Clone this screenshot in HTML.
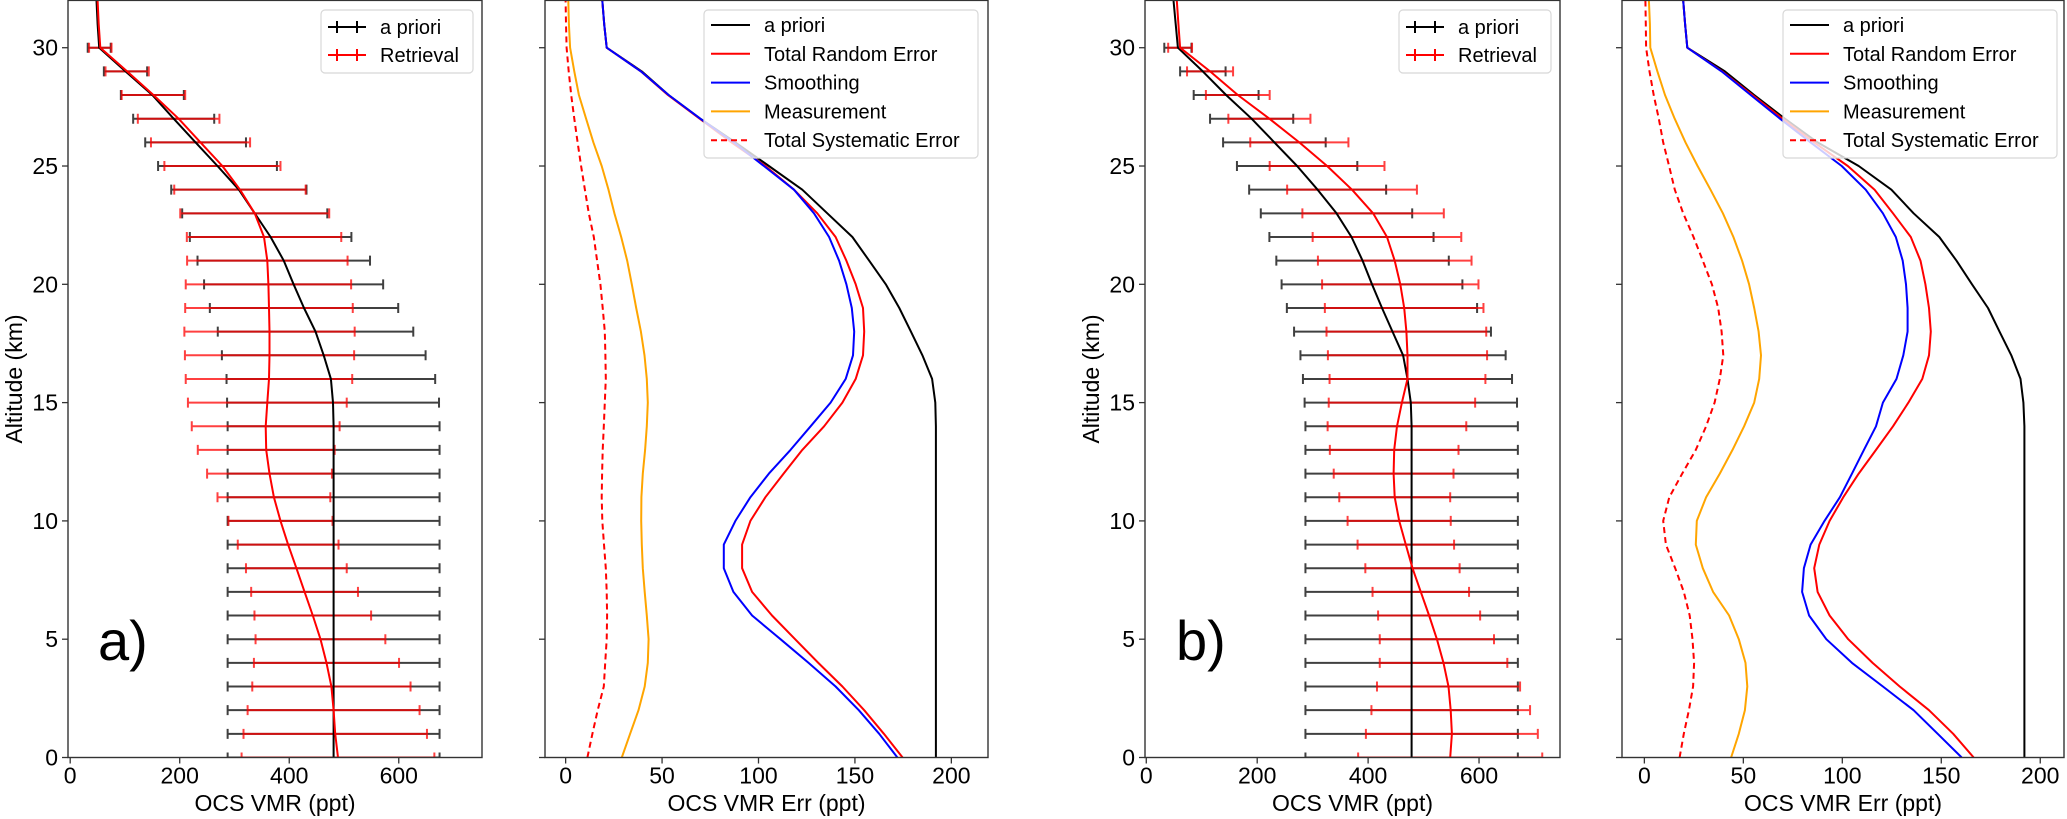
<!DOCTYPE html>
<html><head><meta charset="utf-8">
<style>
html,body{margin:0;padding:0;background:#fff;}
svg{display:block;font-family:"Liberation Sans","DejaVu Sans",sans-serif;}
</style></head>
<body>
<svg id="fig" width="2067" height="819" viewBox="0 0 2067 819" xmlns="http://www.w3.org/2000/svg"></svg>
<script>
// ---------- data (altitude index 0..32 km; error bars 0..30 km) ----------
const altitudes = [0,1,2,3,4,5,6,7,8,9,10,11,12,13,14,15,16,17,18,19,20,21,22,23,24,25,26,27,28,29,30,31,32];
const barAltitudes = [0,1,2,3,4,5,6,7,8,9,10,11,12,13,14,15,16,17,18,19,20,21,22,23,24,25,26,27,28,29,30];

// Panel a
const aPrioriA = [481,481,481,481,481,481,481,481,481,481,481,481,481,481,481,480,476,463,448,427,408,390,366,337,308,269,229,189,150,101,53,50,48];
const aPrioriErrA = [193.5,193.5,193.5,193.5,193.5,193.5,193.5,193.5,193.5,193.5,193.5,193.5,193.5,193.5,193.5,193.5,190.5,186,178.5,172,163.5,157.5,147.5,132.5,123.5,108.5,92,74,57.5,39.5,21];
const retrievalA = [489,484,481,477,468,457,443,428,413,398,384,372,364,358,357,360,363,364,364,363,362,360,354,337,310,278,238,198,152,104,55,52,50];
const retrievalErrA = [176,167.5,157,144.5,132.5,118.5,106.5,97.5,92,92,95,103,114,125,135,145,152,154.5,155.5,153,151,146.5,141,136,120,106,90.5,74.5,58,39.5,20.5];

// Panel a errors
const errAprioriA = [192,192,192,192,192,192,192,192,192,192,192,192,192,192,192,191.7,190,185,179,173,166,157.4,148.7,135.7,122.7,105.4,88,69.8,53.4,39.5,21.3,20,19];
const errRandomA = [174.7,165,154.8,143.5,131,119,107,96.7,91.5,91.5,95.8,103.6,113,122.7,134,143.5,150.4,154.2,154.8,154.2,150.4,145.6,140,130.5,118.4,103.6,86,69.5,53,39,21.3,20,19];
const errSmoothA = [172,162.6,152,140,126,111.4,96.7,87,82,82,88,95.8,105.4,116.6,127,137.4,145.2,149,149.6,148.4,145.6,141.8,136.6,128.8,118.4,102.8,87.2,69.8,53.4,39,21.3,20,19];
const errMeasA = [29.1,33.4,37.8,41,42.6,43,42.1,41,40,39.5,39.2,39.3,40,41.2,42.1,42.6,42.1,40.9,39,36.6,34.3,31.9,28.8,25.3,22.2,18.7,14.4,10.6,6.9,4.5,2.3,1.7,1.4];
const errSysA = [11.3,13.9,16.6,19.8,20.5,21.3,21.5,21.3,20.8,19.9,19,18.7,18.9,19.2,19.8,20.3,20.8,20.6,20.3,19.2,18,16.3,14.6,12,10,8,6.2,4.5,2.9,1.6,0.5,0.2,0];

// Panel b
const aPrioriB = [478.5,478.5,478.5,478.5,478.5,478.5,478.5,478.5,478.5,478.5,478.5,478.5,478.5,478.5,478.5,477,471,463,444,425,407,390,370,343,309,272,231,190,144,102,57,53,49];
const aPrioriErrB = [191.5,191.5,191.5,191.5,191.5,191.5,191.5,191.5,191.5,191.5,191.5,191.5,191.5,191.5,191.5,191.5,188.5,185,177.5,171.5,163,155.5,148,136.5,123.5,108.5,92.5,75,58.5,41,24.5];
const retrievalB = [548,551,549,545,536,524,510,495,480,468,456,448,446,447,452,461,471,471,469,465,458,448,434,409,371,326,276,222,165,115,61,58,55];
const retrievalErrB = [166,155,143,129,115,103,92,87,85,87,93,100,108,116,125,132,140.5,143.5,144,143,141,138.5,134,127.5,117,103.5,88.5,74,57.5,41.5,21.5];

// Panel b errors
const errAprioriB = [192,192,192,192,192,192,192,192,192,192,192,192,192,192,192,191.5,190,185.4,179.4,173.6,165.5,157.7,149,136,124.8,108.3,87.5,71,55.5,40.7,21.7,20.6,19.6];
const errRandomB = [166.4,156,143.8,129,115.3,103,93.6,87.5,85.8,88.4,93.6,100.5,108.3,117,125.6,133.4,140.4,143.8,144.7,143.8,142,139.5,134.6,125.6,116.3,102.8,85.8,69.8,54.6,39.3,21.7,20.6,19.6];
const errSmoothB = [160.3,148.2,136,120.5,104.9,91.9,83.2,79.7,80.6,84,91,98.8,104.9,110.9,117,120.5,127.4,130.8,133,133,132.2,130.5,127,120.5,111.8,99.7,84,68.5,53.7,39,21.7,20.6,19.6];
const errMeasB = [43.8,47.7,50.8,52,51.1,47.7,42.8,34.7,29.5,26,26.5,31.2,38.1,44.5,50.4,55.5,58,58.9,57.7,55.5,52.9,49.4,45,39.7,33.4,26.9,20.8,15.3,10.4,6.6,3,2.8,2.3];
const errSysB = [17.8,19.9,22.5,24.6,25.1,24.3,22.9,19.9,15.6,10.9,9.5,12.6,19.1,26,31.2,35.5,38.1,39.9,39,37.3,34.1,29.5,24.8,19.6,15.4,12.5,9.5,7.3,4.7,2.6,0.9,0.7,0.5];

// ticks
const vmrTicks = [0,200,400,600];
const errTicks = [0,50,100,150,200];
const altTicks = [0,5,10,15,20,25,30];

// ---------- drawing ----------
const NS = "http://www.w3.org/2000/svg";
const svg = document.getElementById('fig');
function el(tag, attrs, parent){
  const e = document.createElementNS(NS, tag);
  for (const k in attrs) e.setAttribute(k, attrs[k]);
  (parent||svg).appendChild(e);
  return e;
}
const Y0 = 757.5, Y1 = 0.4; // y pixel for 0 km and 32 km
function makeAxes(name, left, right, xmin, xmax, ticks, xlabel, showYLabel){
  const g = el('g', {});
  
  
  const sx = v => left + (v - xmin) / (xmax - xmin) * (right - left);
  const sy = a => Y0 - a / 32 * (Y0 - Y1);
  const clipId = name + '-clip';
  const cp = el('clipPath', {id: clipId}, g);
  el('rect', {x:left, y:Y1, width:right-left, height:Y0-Y1}, cp);
  const plot = el('g', {'clip-path':'url(#'+clipId+')'}, g);
  
  
  // x ticks
  ticks.forEach(t => {
    const x = sx(t);
    const tk = el('line', {x1:x, x2:x, y1:Y0, y2:Y0+6, stroke:'#333', 'stroke-width':1.3}, g);
    
    
    const tl = el('text', {x:x, y:Y0+26, 'font-size':23, 'text-anchor':'middle', fill:'#000'}, g);
    tl.textContent = t;
    
    
  });
  altTicks.forEach(t => {
    const y = sy(t);
    const tk = el('line', {x1:left-6, x2:left, y1:y, y2:y, stroke:'#333', 'stroke-width':1.3}, g);
    
    
    if (showYLabel){
      const tl = el('text', {x:left-10, y:y+8, 'font-size':23, 'text-anchor':'end', fill:'#000'}, g);
      tl.textContent = t;
      
      
    }
  });
  const xl = el('text', {x:(left+right)/2, y:811, 'font-size':23, 'text-anchor':'middle', fill:'#000'}, g);
  xl.textContent = xlabel;
  
  
  if (showYLabel){
    const cx = left - 46, cy = 379;
    const yl = el('text', {x:cx, y:cy, 'font-size':23, 'text-anchor':'middle', fill:'#000', transform:'rotate(-90 '+cx+' '+cy+')'}, g);
    yl.textContent = 'Altitude (km)';
    
    
  }
  const frame = el('rect', {x:left, y:Y1, width:right-left, height:Y0-Y1, fill:'none', stroke:'#333', 'stroke-width':1.4}, g);
  
  
  return {g, plot, sx, sy};
}
function drawLine(ax, vals, color, name, dash){
  const pts = vals.map((v,i) => ax.sx(v).toFixed(1)+','+ax.sy(altitudes[i]).toFixed(1)).join(' ');
  const p = el('polyline', {points:pts, fill:'none', stroke:color, 'stroke-width':2, 'stroke-linejoin':'round'}, ax.plot);
  if (dash) p.setAttribute('stroke-dasharray', '6,4');
  
  
}
function drawErrBars(ax, centers, errs, color, opacity, name){
  const g = el('g', {stroke:color, 'stroke-opacity':opacity, 'stroke-width':2}, ax.plot);
  
  
  barAltitudes.forEach((a,i) => {
    const y = ax.sy(a), x1 = ax.sx(centers[i]-errs[i]), x2 = ax.sx(centers[i]+errs[i]);
    const b = el('path', {d:'M'+x1+' '+y+'H'+x2+'M'+x1+' '+(y-5)+'V'+(y+5)+'M'+x2+' '+(y-5)+'V'+(y+5), fill:'none'}, g);
    
    
  });
}
function legendErr(x, y, w, entries, name){
  const g = el('g', {});
  
  
  el('rect', {x:x, y:y, width:w, height:63, rx:4, fill:'#fff', 'fill-opacity':0.85, stroke:'#d8d8d8', 'stroke-width':1.2}, g);
  entries.forEach((e,i) => {
    const yy = y + 17 + i*28;
    const it = el('g', {}, g);
    
    
    el('path', {d:'M'+(x+7)+' '+yy+'H'+(x+45)+'M'+(x+16)+' '+(yy-6)+'V'+(yy+6)+'M'+(x+36)+' '+(yy-6)+'V'+(yy+6), stroke:e[1], 'stroke-width':2}, it);
    const t = el('text', {x:x+59, y:yy+7, 'font-size':20, fill:'#000'}, it);
    t.textContent = e[0];
  });
}
function legendLines(x, y, w, entries, name){
  const g = el('g', {});
  
  
  el('rect', {x:x, y:y, width:w, height:148, rx:4, fill:'#fff', 'fill-opacity':0.8, stroke:'#d8d8d8', 'stroke-width':1.2}, g);
  entries.forEach((e,i) => {
    const yy = y + 15 + i*28.8;
    const it = el('g', {}, g);
    
    
    const l = el('line', {x1:x+7, x2:x+46, y1:yy, y2:yy, stroke:e[1], 'stroke-width':2}, it);
    if (e[2]) l.setAttribute('stroke-dasharray','6,4');
    const t = el('text', {x:x+60, y:yy+7, 'font-size':20, fill:'#000'}, it);
    t.textContent = e[0];
  });
}

// Panel a (VMR)
const axA = makeAxes('panel-a-vmr', 68, 482, -4, 752, vmrTicks, 'OCS VMR (ppt)', true);
drawErrBars(axA, aPrioriA, aPrioriErrA, '#000', 0.75, 'apriori-errorbars-a');
drawErrBars(axA, retrievalA, retrievalErrA, '#ff0000', 0.75, 'retrieval-errorbars-a');
drawLine(axA, aPrioriA, '#000', 'apriori-line-a');
drawLine(axA, retrievalA, '#ff0000', 'retrieval-line-a');
legendErr(321, 10, 152, [['a priori','#000'],['Retrieval','#ff0000']], 'legend-a');
const la = el('text', {x:98, y:660, 'font-size':56, fill:'#000'}); la.textContent = 'a)';



// Panel a errors
const axAE = makeAxes('panel-a-errors', 545, 988, -10.7, 219, errTicks, 'OCS VMR Err (ppt)', false);
drawLine(axAE, errAprioriA, '#000', 'apriori-error-line-a');
drawLine(axAE, errRandomA, '#ff0000', 'random-error-line-a');
drawLine(axAE, errSmoothA, '#0000ff', 'smoothing-error-line-a');
drawLine(axAE, errMeasA, '#ffa500', 'measurement-error-line-a');
drawLine(axAE, errSysA, '#ff0000', 'systematic-error-line-a', true);
legendLines(704, 10, 274, [['a priori','#000'],['Total Random Error','#ff0000'],['Smoothing','#0000ff'],['Measurement','#ffa500'],['Total Systematic Error','#ff0000',true]], 'legend-a-errors');

// Panel b (VMR)
const axB = makeAxes('panel-b-vmr', 1145, 1560, -2.3, 746, vmrTicks, 'OCS VMR (ppt)', true);
drawErrBars(axB, aPrioriB, aPrioriErrB, '#000', 0.75, 'apriori-errorbars-b');
drawErrBars(axB, retrievalB, retrievalErrB, '#ff0000', 0.75, 'retrieval-errorbars-b');
drawLine(axB, aPrioriB, '#000', 'apriori-line-b');
drawLine(axB, retrievalB, '#ff0000', 'retrieval-line-b');
legendErr(1399, 10, 152, [['a priori','#000'],['Retrieval','#ff0000']], 'legend-b');
const lb = el('text', {x:1176, y:660, 'font-size':56, fill:'#000'}); lb.textContent = 'b)';



// Panel b errors
const axBE = makeAxes('panel-b-errors', 1622, 2064, -11.3, 212, errTicks, 'OCS VMR Err (ppt)', false);
drawLine(axBE, errAprioriB, '#000', 'apriori-error-line-b');
drawLine(axBE, errRandomB, '#ff0000', 'random-error-line-b');
drawLine(axBE, errSmoothB, '#0000ff', 'smoothing-error-line-b');
drawLine(axBE, errMeasB, '#ffa500', 'measurement-error-line-b');
drawLine(axBE, errSysB, '#ff0000', 'systematic-error-line-b', true);
legendLines(1783, 10, 274, [['a priori','#000'],['Total Random Error','#ff0000'],['Smoothing','#0000ff'],['Measurement','#ffa500'],['Total Systematic Error','#ff0000',true]], 'legend-b-errors');
</script>
</body></html>
